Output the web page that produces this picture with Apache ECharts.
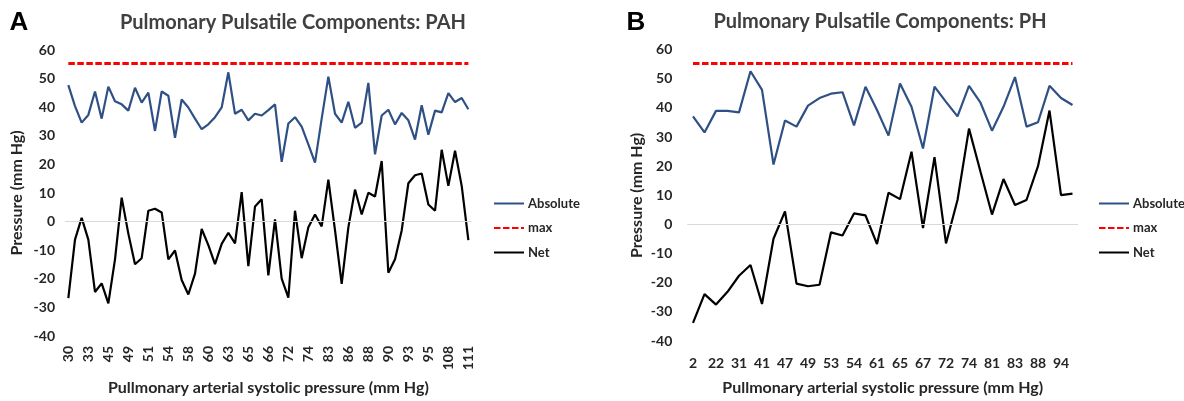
<!DOCTYPE html>
<html>
<head>
<meta charset="utf-8">
<script src="https://cdn.jsdelivr.net/npm/echarts@6/dist/echarts.min.js"></script>
<style>
  html, body { margin: 0; padding: 0; background: #fff; }
  #chart { width: 1184px; height: 401px; }
</style>
</head>
<body>
<div id="chart"></div>
<script>
// ---------- Panel A (PAH) ----------
const catsA = [30,31,32,33,38,42,45,46,48,49,50,50,51,52,53,54,56,57,58,59,59,60,61,62,63,64,64,65,65,66,
               66,68,70,72,73,73,74,78,80,83,84,85,86,87,87,88,89,89,90,91,92,93,94,94,95,100,104,108,109,110,111];
const absoluteA = [47.7,40.4,34.6,37.3,45.5,36.0,47.2,42.1,41.0,38.8,46.8,41.6,45.1,31.7,45.5,44.0,29.3,42.7,39.9,36.0,
                   32.3,34.0,36.5,39.9,52.2,37.7,39.1,35.4,37.7,37.1,39.0,41.0,20.9,34.3,36.5,33.2,27.0,20.6,36.0,50.7,
                   37.7,34.6,41.9,32.8,34.6,48.5,23.5,37.1,39.1,34.0,38.0,35.4,28.7,40.7,30.4,38.8,38.2,44.9,41.8,43.2,39.3];
const netA = [-26.8,-6.3,1.3,-6.3,-24.6,-21.6,-28.6,-13.2,8.4,-4.2,-14.9,-12.8,3.8,4.5,3.2,-13.2,-10.1,-20.4,-25.5,-18.2,
              -2.6,-8.2,-14.9,-7.8,-3.9,-7.6,10.3,-15.6,5.3,7.8,-18.8,0.8,-19.9,-26.6,3.8,-12.8,-2.0,2.5,-1.7,14.7,
              -3.1,-21.8,-2.0,11.2,2.5,10.1,8.8,21.2,-17.9,-13.2,-3.1,13.4,16.2,16.8,6.0,3.8,25.1,12.5,24.8,12.5,-6.5];
const maxA = 55.5;

// ---------- Panel B (PH) ----------
const catsB = [2,15,22,28,31,36,41,44,47,48,49,51,53,53,54,58,61,63,65,66,67,70,72,73,74,78,81,82,83,86,88,91,94,98];
const absoluteB = [37.1,31.6,39.0,39.0,38.5,52.6,46.2,20.6,35.7,33.6,40.8,43.4,44.9,45.4,34.0,47.3,39.3,30.5,48.4,40.4,
                   26.1,47.3,42.1,37.1,47.6,41.8,32.2,40.4,50.6,33.6,35.1,47.6,43.4,41.0];
const netB = [-33.8,-23.9,-27.5,-23.1,-17.6,-13.9,-27.3,-4.9,4.5,-20.3,-21.2,-20.7,-2.7,-3.8,3.8,3.1,-6.7,10.9,8.7,25.0,
              -1.2,23.1,-6.5,8.4,32.9,18.1,3.4,15.6,6.7,8.4,20.0,39.1,10.1,10.6];
const maxB = 55.5;

const yMin = -40, yMax = 60, yStep = 10;
const seriesNames = ['Absolute', 'max', 'Net'];
const titleA = 'Pulmonary Pulsatile Components: PAH';
const titleB = 'Pulmonary Pulsatile Components: PH';
const xName = 'Pullmonary arterial systolic pressure (mm Hg)';
const yName = 'Pressure (mm Hg)';

const FONT = 'Lato';
const TXT = '#262626';
const BLUE = '#2F5085';

function yAxisCfg(gridIndex, margin, gap) {
  return {
    type: 'value', gridIndex, min: yMin, max: yMax, interval: yStep,
    axisLine: { show: false }, axisTick: { show: false }, splitLine: { show: false },
    axisLabel: { margin, color: TXT, fontFamily: FONT, fontWeight: 'bold', fontSize: 14 },
    name: yName, nameLocation: 'middle', nameGap: gap,
    nameTextStyle: { color: TXT, fontFamily: FONT, fontWeight: 'bold', fontSize: 16 }
  };
}

function xAxisCfg(gridIndex, cats, interval, rotate, margin, gap) {
  return {
    type: 'category', gridIndex, data: cats, boundaryGap: true,
    axisLine: { show: false }, axisTick: { show: false }, splitLine: { show: false },
    axisLabel: { interval, rotate, margin, color: TXT, fontFamily: FONT, fontWeight: 'bold', fontSize: 14 },
    name: xName, nameLocation: 'middle', nameGap: gap,
    nameTextStyle: { color: TXT, fontFamily: FONT, fontWeight: 'bold', fontSize: 16 }
  };
}

function panelSeries(idx, cats, abs, net, maxVal) {
  return [
    {
      name: 'Absolute', type: 'line', xAxisIndex: idx, yAxisIndex: idx, data: abs,
      symbol: 'none', color: BLUE, lineStyle: { color: BLUE, width: 2.2 }, silent: true, z: 3,
      markLine: {
        silent: true, symbol: ['none', 'none'], label: { show: false },
        lineStyle: { color: '#D9D9D9', width: 1, type: 'solid' },
        data: [{ yAxis: 0 }]
      }
    },
    {
      name: 'max', type: 'line', xAxisIndex: idx, yAxisIndex: idx, data: [],
      symbol: 'none', color: '#FF0000', lineStyle: { color: '#FF0000', width: 3, type: [6.5, 2.5] }, silent: true, z: 4,
      markLine: {
        silent: true, symbol: ['none', 'none'], label: { show: false },
        lineStyle: { color: '#FF0000', width: 3, type: [6.5, 2.5] },
        data: [[{ coord: [0, maxVal] }, { coord: [cats.length - 1, maxVal] }]]
      }
    },
    {
      name: 'Net', type: 'line', xAxisIndex: idx, yAxisIndex: idx, data: net,
      symbol: 'none', color: '#000000', lineStyle: { color: '#000000', width: 2.2 }, silent: true, z: 3
    }
  ];
}

function legendCfg(left) {
  return {
    orient: 'vertical', left, top: 197, padding: 0, itemWidth: 30, itemHeight: 14, itemGap: 11.5,
    data: seriesNames, selectedMode: false,
    itemStyle: { opacity: 0 },
    textStyle: { color: TXT, fontFamily: FONT, fontWeight: 'bold', fontSize: 13, padding: [0, 0, 0, -1] }
  };
}

function textEl(x, y, text, size, family, color) {
  return {
    type: 'text', x, y, silent: true,
    style: { text, textAlign: 'center', textVerticalAlign: 'middle',
             fontSize: size, fontWeight: 'bold', fontFamily: family, fill: color }
  };
}

const chart = echarts.init(document.getElementById('chart'), null, { renderer: 'canvas' });
chart.setOption({
  animation: false,
  backgroundColor: '#ffffff',
  graphic: [
    textEl(19, 23, 'A', 26, 'Liberation Sans', '#000'),
    textEl(293, 23, titleA, 20, FONT, '#404040'),
    textEl(636, 23, 'B', 26, 'Liberation Sans', '#000'),
    textEl(880, 22, titleB, 20, FONT, '#404040')
  ],
  grid: [
    { left: 65, top: 50, width: 406.7, height: 298.3 },
    { left: 687.25, top: 49.7, width: 391, height: 301.6 }
  ],
  xAxis: [
    xAxisCfg(0, catsA, 2, 90, 10, 44),
    xAxisCfg(1, catsB, 1, 0, 15, 39)
  ],
  yAxis: [
    yAxisCfg(0, 10, 40),
    yAxisCfg(1, 15, 42)
  ],
  legend: [legendCfg(493), legendCfg(1098)],
  series: [
    ...panelSeries(0, catsA, absoluteA, netA, maxA),
    ...panelSeries(1, catsB, absoluteB, netB, maxB)
  ]
});
</script>
</body>
</html>
